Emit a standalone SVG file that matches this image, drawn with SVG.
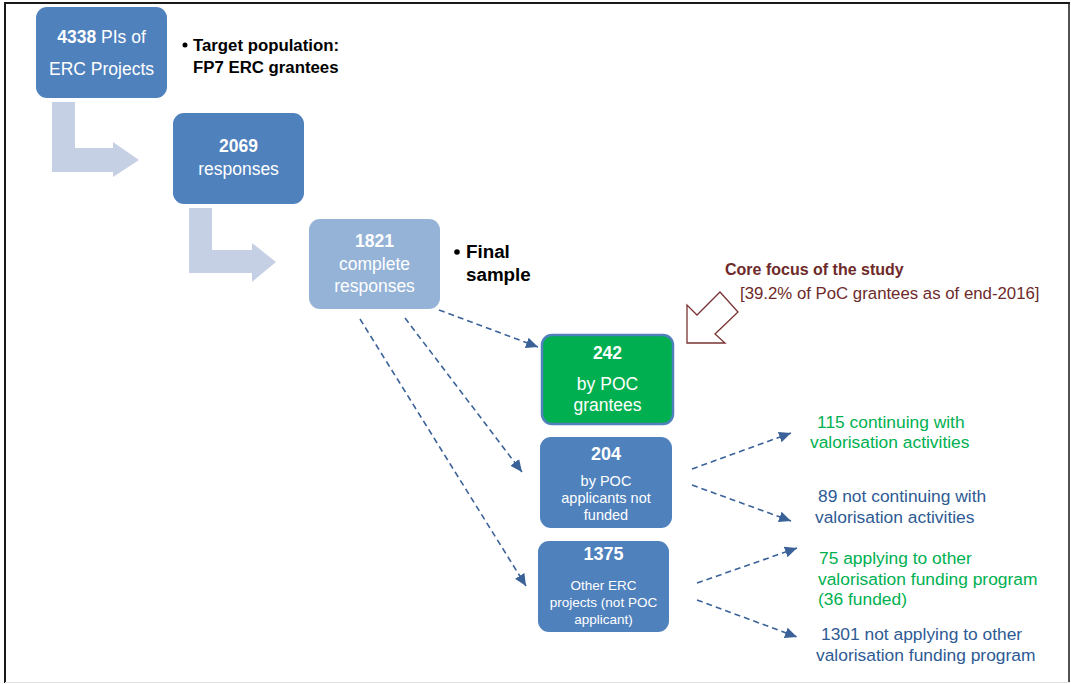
<svg xmlns="http://www.w3.org/2000/svg" width="1071" height="684" viewBox="0 0 1071 684">
<defs>
<style>
.box{fill:#4F81BD}
.lbox{fill:#95B3D7}
.bent{fill:#C6D0E4}
.wt{fill:#FFFFFF;font-family:"Liberation Sans",Arial,sans-serif;text-anchor:middle}
.b{font-weight:bold}
.bl{font-family:"Liberation Sans",Arial,sans-serif;font-weight:bold;fill:#000000}
.gt{fill:#00B050;font-family:"Liberation Sans",Arial,sans-serif;font-size:17.4px}
.btx{fill:#2E5A94;font-family:"Liberation Sans",Arial,sans-serif;font-size:17.4px}
.mr{fill:#6E2A2A;font-family:"Liberation Sans",Arial,sans-serif}
.dash{stroke:#3B6298;stroke-width:1.6;stroke-dasharray:6 4;fill:none;marker-end:url(#ah)}
</style>
<marker id="ah" markerUnits="userSpaceOnUse" markerWidth="13" markerHeight="13" viewBox="0 0 13 13" refX="12" refY="6.5" orient="auto">
<path d="M0,1 L12,6.5 L0,12 Z" fill="#3B6298"/>
</marker>
</defs>
<rect x="0" y="0" width="1071" height="684" fill="#FFFFFF"/>
<g id="frame">
<line x1="5" y1="3" x2="5" y2="683" stroke="#1a1a1a" stroke-width="2"/>
<line x1="4" y1="3" x2="1070" y2="3" stroke="#1a1a1a" stroke-width="2"/>
<line x1="1069" y1="3" x2="1069" y2="683" stroke="#1a1a1a" stroke-width="1.5"/>
<line x1="5" y1="682.5" x2="1070" y2="682.5" stroke="#E0E0E0" stroke-width="1"/>
</g>
<g id="bent-arrow-1">
<path class="bent" d="M52,102 H75 V148 H113 V142 L139,160 L113,177 V172 H52 Z"/>
</g>
<g id="bent-arrow-2">
<path class="bent" d="M189,208 H212 V250 H252 V243 L276,262 L252,282 V273 H189 Z"/>
</g>
<g id="node-4338">
<rect class="box" x="36" y="7" width="131" height="91" rx="11"/>
<text class="wt" x="101.5" y="43" font-size="17.5"><tspan class="b">4338</tspan> PIs of</text>
<text class="wt" x="101.5" y="75" font-size="17.5">ERC Projects</text>
</g>
<g id="note-target">
<circle cx="185" cy="45" r="2.5" fill="#000"/>
<text class="bl" x="193" y="51" font-size="16.8">Target population:</text>
<text class="bl" x="193" y="73" font-size="16.8">FP7 ERC grantees</text>
</g>
<g id="node-2069">
<rect class="box" x="173" y="113" width="131" height="91" rx="11"/>
<text class="wt b" x="238.5" y="152" font-size="17.5">2069</text>
<text class="wt" x="238.5" y="175" font-size="17.5">responses</text>
</g>
<g id="node-1821">
<rect class="lbox" x="309" y="219" width="131" height="90" rx="11"/>
<text class="wt b" x="374.5" y="247" font-size="17.5">1821</text>
<text class="wt" x="374.5" y="270" font-size="17.5">complete</text>
<text class="wt" x="374.5" y="292" font-size="17.5">responses</text>
</g>
<g id="note-final">
<circle cx="457" cy="252" r="2.8" fill="#000"/>
<text class="bl" x="466" y="258" font-size="18.8">Final</text>
<text class="bl" x="466" y="281" font-size="18.8">sample</text>
</g>
<g id="note-core">
<text class="mr b" x="725" y="275" font-size="16">Core focus of the study</text>
<text class="mr" x="740" y="299" font-size="16.8">[39.2% of PoC grantees as of end-2016]</text>
<path d="M687,343 L687,305 L697,315 L720,292 L738,312 L715,334 L725,343 Z" fill="none" stroke="#7A3333" stroke-width="1.3"/>
</g>
<g id="node-242">
<rect x="542" y="335" width="131" height="89" rx="10" fill="#00B050" stroke="#4F81BD" stroke-width="2.5"/>
<text class="wt b" x="607.5" y="359" font-size="17.5">242</text>
<text class="wt" x="607.5" y="390" font-size="17.5">by POC</text>
<text class="wt" x="607.5" y="411" font-size="17.5">grantees</text>
</g>
<g id="node-204">
<rect class="box" x="540" y="437" width="132" height="91" rx="11"/>
<text class="wt b" x="606" y="460" font-size="18">204</text>
<text class="wt" x="606" y="486" font-size="14.5">by POC</text>
<text class="wt" x="606" y="503" font-size="14.5">applicants not</text>
<text class="wt" x="606" y="520" font-size="14.5">funded</text>
</g>
<g id="node-1375">
<rect class="box" x="538" y="541" width="131" height="91" rx="11"/>
<text class="wt b" x="603.5" y="560" font-size="18">1375</text>
<text class="wt" x="603.5" y="590" font-size="13.5">Other ERC</text>
<text class="wt" x="603.5" y="607" font-size="13.5">projects (not POC</text>
<text class="wt" x="603.5" y="624" font-size="13.5">applicant)</text>
</g>
<g id="label-115">
<text class="gt" x="817" y="428">115 continuing with</text>
<text class="gt" x="810" y="448">valorisation activities</text>
</g>
<g id="label-89">
<text class="btx" x="818" y="502">89 not continuing with</text>
<text class="btx" x="815" y="523">valorisation activities</text>
</g>
<g id="label-75">
<text class="gt" x="819" y="564">75 applying to other</text>
<text class="gt" x="818" y="585">valorisation funding program</text>
<text class="gt" x="818" y="605">(36 funded)</text>
</g>
<g id="label-1301">
<text class="btx" x="821" y="640">1301 not applying to other</text>
<text class="btx" x="816" y="661">valorisation funding program</text>
</g>
<g id="connectors">
<line class="dash" x1="439" y1="310" x2="538" y2="347"/>
<line class="dash" x1="405" y1="318" x2="522" y2="472"/>
<line class="dash" x1="360" y1="319" x2="526" y2="586"/>
<line class="dash" x1="692" y1="469" x2="791" y2="433"/>
<line class="dash" x1="692" y1="485" x2="791" y2="521"/>
<line class="dash" x1="697" y1="583" x2="797" y2="548"/>
<line class="dash" x1="697" y1="600" x2="797" y2="637"/>
</g>
</svg>
